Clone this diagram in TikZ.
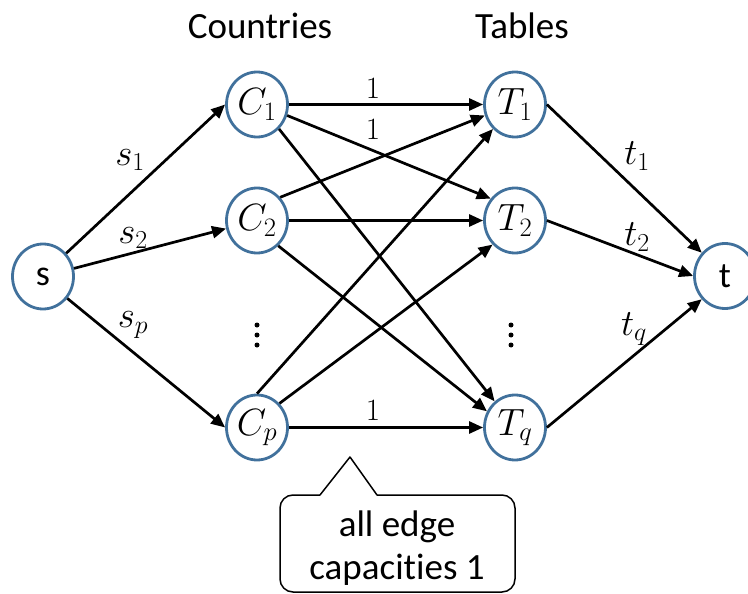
\RequirePackage{fix-cm}
\documentclass[tikz,border=0pt]{standalone}
\usepackage{fontspec}
\setmainfont{Carlito}[Ligatures=NoCommon]
\usetikzlibrary{arrows.meta,shapes.geometric}
\definecolor{nodeblue}{RGB}{65,113,156}
\tikzset{
  vert/.style={ellipse, draw=nodeblue, line width=2.8pt, fill=white,
    minimum width=61pt, minimum height=65pt, inner sep=0pt,
    font=\fontsize{38}{44}\selectfont},
  edge/.style={line width=2.7pt, -{Triangle[length=14pt,width=12pt]}},
  elabel/.style={font=\fontsize{37}{42}\selectfont, inner sep=0pt},
  onelabel/.style={font=\fontsize{31}{36}\selectfont, inner sep=0pt},
  head/.style={font=\fontsize{37}{42}\selectfont, inner sep=0pt},
  vdot/.style={circle, fill=black, inner sep=0pt, minimum size=5pt}
}
\begin{document}
\begin{tikzpicture}[x=1pt,y=-1pt]
\useasboundingbox (0,0) rectangle (748,594);
% headers
\node[head] (hc) at (260,26) {Countries};
\node[head] (ht) at (522,26) {Tables};
% vertices
\node[vert, font=\fontsize{36}{42}\selectfont] (s) at (43,276.5) {s};
\node[vert] (C1) at (257,104.5) {$C_1$};
\node[vert] (C2) at (257,220.5) {$C_2$};
\node[vert] (Cp) at (257,427.5) {$C_p$};
\node[vert] (T1) at (515,104.5) {$T_1$};
\node[vert] (T2) at (515,220.5) {$T_2$};
\node[vert] (Tq) at (515,427.5) {$T_q$};
\node[vert, font=\fontsize{36}{42}\selectfont] (t) at (725,276) {t};
% dots
\node[vdot] (d1) at (257,325) {};
\node[vdot] (d2) at (257,335) {};
\node[vdot] (d3) at (257,345) {};
\node[vdot] (e1) at (511,325) {};
\node[vdot] (e2) at (511,335) {};
\node[vdot] (e3) at (511,345) {};
% source edges
\draw[edge] (s.45) -- (C1.west);
\draw[edge] (s) -- (C2);
\draw[edge] (s.-42) -- (Cp.west);
% middle edges
\draw[edge] (C1.east) -- (T1.west);
\draw[edge] (C1.-20) -- (T2.138);
\draw[edge] (C1.-48) -- (Tq.128);
\draw[edge] (C2.45) -- (T1.200);
\draw[edge] (C2.east) -- (T2.west);
\draw[edge] (C2.-50) -- (Tq.150);
\draw[edge] (Cp.north) -- (T1.228);
\draw[edge] (Cp.47) -- (T2.227);
\draw[edge] (Cp.east) -- (Tq.west);
% sink edges
\draw[edge] (T1.east) -- (t.135);
\draw[edge] (T2.east) -- (t.west);
\draw[edge] (Tq.east) -- (t.225);
% labels
\node[onelabel] (l1) at (373,89) {$1$};
\node[onelabel] (l2) at (373,130) {$1$};
\node[onelabel] (l3) at (373,411) {$1$};
\node[elabel] (ls1) at (130,160) {$s_1$};
\node[elabel] (ls2) at (133,238) {$s_2$};
\node[elabel] (lsp) at (133,325) {$s_p$};
\node[elabel] (lt1) at (637,156) {$t_1$};
\node[elabel] (lt2) at (637,237) {$t_2$};
\node[elabel] (ltq) at (634,329) {$t_q$};
% callout
\coordinate (tip) at (350,457);
\draw[line width=1.5pt, line join=round] (320,495) -- (tip) -- (377,495)
  [rounded corners=13pt] -- (515,495) -- (515,592) -- (280,592) -- (280,495) -- (320,495);
\node[head, align=center, font=\fontsize{37}{43}\selectfont] (note) at (397,548) {all edge\\capacities 1};
\end{tikzpicture}
\end{document}
